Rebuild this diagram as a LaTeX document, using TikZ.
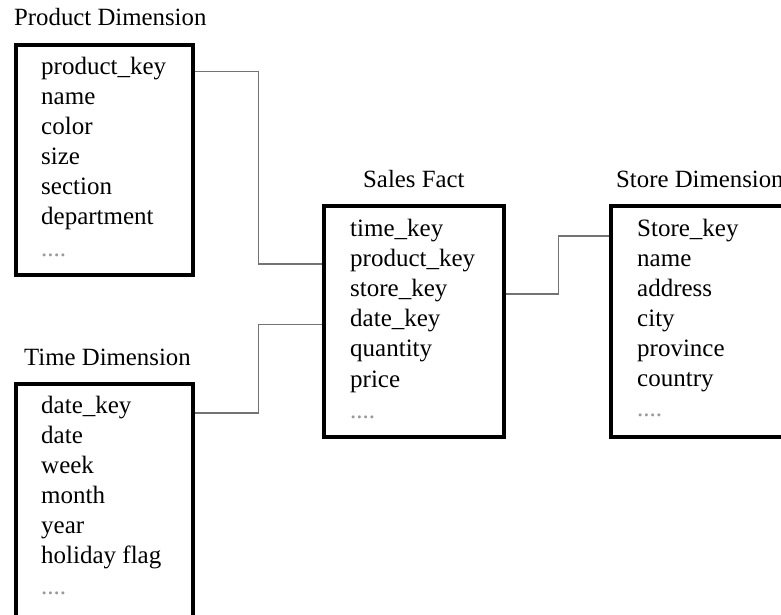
\documentclass[tikz,border=0pt]{standalone}
\usepackage{fontspec}
\setmainfont{Liberation Serif}
\begin{document}
\begin{tikzpicture}[x=1pt,y=-1pt,
  table/.style={draw=black, line width=3.2pt, rectangle, inner sep=0pt},
  field/.style={anchor=base west, inner sep=0pt, font=\fontsize{25}{30}\selectfont},
  heading/.style={anchor=base west, inner sep=0pt, font=\fontsize{24.8}{30}\selectfont},
  more/.style={field, text=black!40},
  link/.style={draw=black!55, line width=1.5pt}]
\useasboundingbox (0,0) rectangle (781,614);
\clip (0,0) rectangle (781,614);

% headings
\node[heading] (prodtitle)  at (14,25)  {Product Dimension};
\node[heading] (salestitle) at (363,187) {Sales Fact};
\node[heading] (storetitle) at (616,187) {Store Dimension};
\node[heading] (timetitle)  at (24,365) {Time Dimension};

% table frames
\node[table, minimum width=177pt, minimum height=230pt] (prod)  at (104.5,160) {};
\node[table, minimum width=180pt, minimum height=231pt] (sales) at (414,321.5) {};
\node[table, minimum width=190pt, minimum height=231pt] (store) at (706,321.5) {};
\node[table, minimum width=177pt, minimum height=266pt] (time)  at (104.5,517) {};

% product fields
\foreach \t [count=\i] in {product\_key,name,color,size,section,department}
  \node[field] (p\i) at (41,{74+30*(\i-1)}) {\t};
\node[more] (p7) at (41,256) {....};

% sales fields
\foreach \t [count=\i] in {time\_key,product\_key,store\_key,date\_key,quantity,price}
  \node[field] (s\i) at (350,{236+30.2*(\i-1)}) {\t};
\node[more] (s7) at (350,418) {....};

% store fields
\foreach \t [count=\i] in {Store\_key,name,address,city,province,country}
  \node[field] (st\i) at (637,{236+30*(\i-1)}) {\t};
\node[more] (st7) at (637,416) {....};

% time fields
\foreach \t [count=\i] in {date\_key,date,week,month,year,holiday flag}
  \node[field] (t\i) at (41,{413+30*(\i-1)}) {\t};
\node[more] (t7) at (41,594) {....};

% key links
\draw[link] (prod.east |- p1.mid) -- ++(64,0) |- (sales.west |- s2.mid);
\draw[link] (time.east |- t1.base) -- ++(64,0) |- (sales.west |- s4.mid);
\draw[link] (sales.east |- s3.mid) -- ++(53,0) |- (store.west |- st1.base);
\end{tikzpicture}
\end{document}
